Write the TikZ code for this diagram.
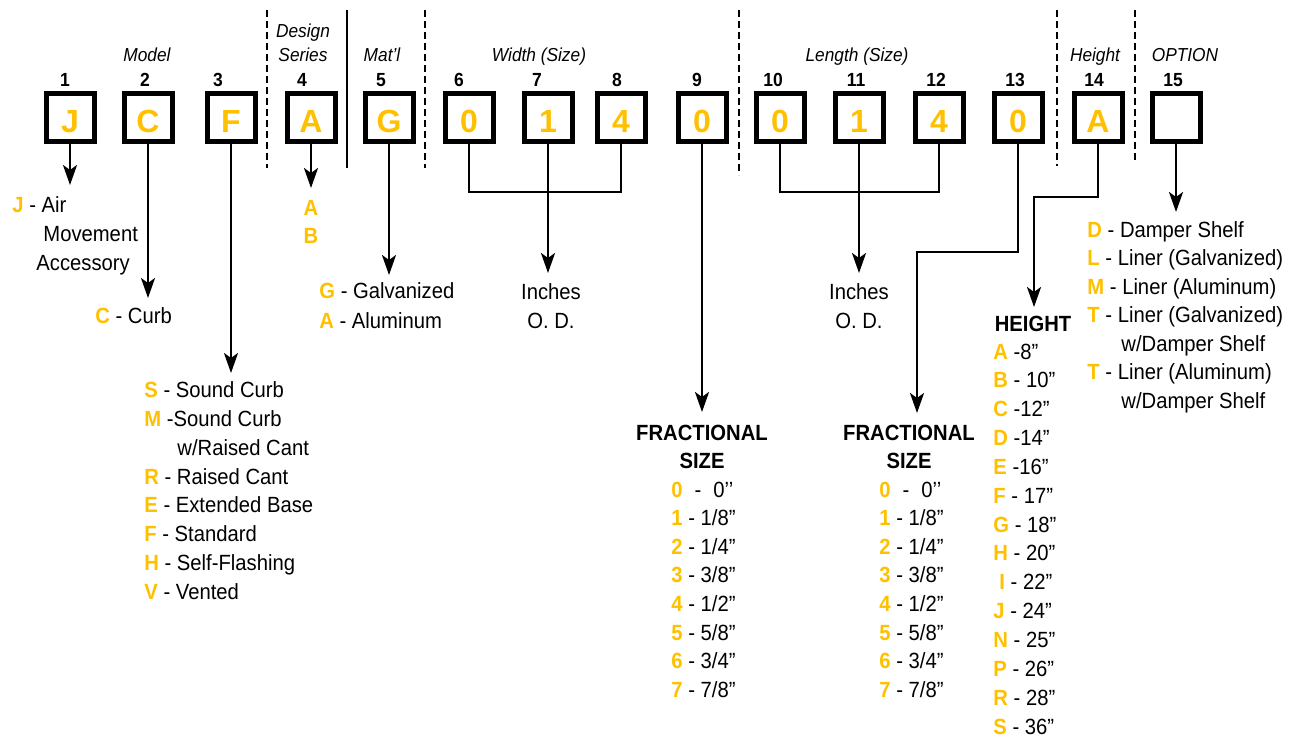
\documentclass[tikz,border=0pt]{standalone}
\usepackage{fontspec}
\setmainfont{Liberation Sans}[FakeStretch=0.92]
\newfontfamily\boxfont{Liberation Sans}
\usepackage{tikz}
\usepackage{xcolor}
\usetikzlibrary{arrows.meta,positioning}
\definecolor{ink}{HTML}{000000}
\definecolor{keyyellow}{HTML}{FFC000}
\newcommand{\kc}[1]{{\bfseries\color{keyyellow}#1}}

\begin{document}
\begin{tikzpicture}[x=0.5pt,y=-0.5pt,
    digitbox/.style={draw=ink,fill=white,line width=2.5pt,minimum size=24pt,inner sep=0pt,
      text height=15pt,text depth=0pt,font=\boxfont\fontsize{16}{16}\selectfont\bfseries,text=keyyellow},
    posnum/.style={font=\fontsize{9.5}{10}\selectfont\bfseries,anchor=base,inner sep=0pt},
    fieldlbl/.style={font=\fontsize{9.4}{10}\selectfont\itshape,anchor=base,inner sep=0pt},
    item/.style={font=\fontsize{11}{12}\selectfont,anchor=base west,inner sep=0pt},
    ctritem/.style={font=\fontsize{11}{12}\selectfont,anchor=base,inner sep=0pt},
    hdr/.style={font=\fontsize{11}{12}\selectfont\bfseries,anchor=base,inner sep=0pt},
    conn/.style={draw=ink,line width=1.3pt},
    arr/.style={conn,-{Stealth[length=10pt,width=7pt,inset=2.5pt]}},
    divd/.style={draw=ink,line width=1.2pt,dash pattern=on 3.5pt off 2pt}]
  \useasboundingbox (0,0) rectangle (1304,736);

  % code positions
  \foreach \i/\bx/\nx/\ch in {1/70/65/J,2/148/145/C,3/231/218/F,4/311/302/A,5/389/381/G,
      6/469/459/0,7/548/537/1,8/621/617/4,9/702/697/0,10/780/773/0,11/859/856/1,
      12/939/936/4,13/1018/1015/0,14/1098/1094/A,15/1176/1173/} {
    \node[digitbox] (b\i) at (\bx,117) {\ch};
    \node[posnum] (n\i) at (\nx,86) {\i};
  }

  % field labels
  \node[fieldlbl] (lmodel) at (147,61) {Model};
  \node[fieldlbl] (ldesign) at (303,37) {Design};
  \node[fieldlbl] (lseries) at (303,61) {Series};
  \node[fieldlbl] (lmat) at (382,61) {Mat’l};
  \node[fieldlbl] (lwidth) at (539,61) {Width (Size)};
  \node[fieldlbl] (llength) at (857,61) {Length (Size)};
  \node[fieldlbl] (lheight) at (1095,61) {Height};
  \node[fieldlbl] (loption) at (1185,61) {OPTION};

  % dividers
  \foreach \x/\yb in {267/168,425/168,739/175,1057/166,1135/162}
    \draw[divd] (\x,10) -- (\x,\yb);
  \draw[ink,line width=1.2pt] (347,10) -- (347,168);

  % single arrows
  \foreach \i/\ty in {1/185,2/298,3/373,4/188,5/275,9/412,15/212} {
    \coordinate (t\i) at (b\i.south |- 0,\ty);
    \draw[arr] (b\i.south) -- (t\i);
  }

  % width and length brackets
  \coordinate (wjoin) at (b7.south |- 0,192);
  \coordinate (wtip) at (b7.south |- 0,273);
  \draw[conn] (b6.south) |- (wjoin) -| (b8.south);
  \draw[arr] (b7.south) -- (wtip);
  \coordinate (ljoin) at (b11.south |- 0,192);
  \coordinate (ltip) at (b11.south |- 0,273);
  \draw[conn] (b10.south) |- (ljoin) -| (b12.south);
  \draw[arr] (b11.south) -- (ltip);

  % jogged arrows
  \coordinate (k13) at (917,252);
  \coordinate (t13) at (917,413);
  \draw[arr] (b13.south) |- (k13) -- (t13);
  \coordinate (k14) at (1034,197);
  \coordinate (t14) at (1034,307);
  \draw[arr] (b14.south) |- (k14) -- (t14);

  % model
  \node[item] (jair) at (12,212) {\kc{J} - Air};
  \node[item] (jmove) at (43,241) {Movement};
  \node[item] (jacc) at (36,270) {Accessory};
  \node[item] (ccurb) at (95,323) {\kc{C} - Curb};
  \node[item] (fs) at (144,397) {\kc{S} - Sound Curb};
  \node[item] (fm) at (144,426) {\kc{M} -Sound Curb};
  \node[item] (fmw) at (177,455) {w/Raised Cant};
  \node[item] (fr) at (144,484) {\kc{R} - Raised Cant};
  \node[item] (fe) at (144,512) {\kc{E} - Extended Base};
  \node[item] (ff) at (144,541) {\kc{F} - Standard};
  \node[item] (fh) at (144,570) {\kc{H} - Self-Flashing};
  \node[item] (fv) at (144,599) {\kc{V} - Vented};

  % design series and material
  \node[hdr,text=keyyellow] (dsa) at (311,215) {A};
  \node[hdr,text=keyyellow] (dsb) at (311,243) {B};
  \node[item] (matg) at (319,298) {\kc{G} - Galvanized};
  \node[item] (mata) at (319,328) {\kc{A} - Aluminum};

  % inches
  \node[ctritem] (winch) at (551,299) {Inches};
  \node[ctritem] (wod) at (551,328) {O. D.};
  \node[ctritem] (linch) at (859,299) {Inches};
  \node[ctritem] (lod) at (859,328) {O. D.};

  % fractional sizes
  \foreach \cx/\lx/\s in {702/671/w,909/879/l} {
    \node[hdr] (frac\s) at (\cx,440) {FRACTIONAL};
    \node[hdr] (size\s) at (\cx,468) {SIZE};
    \node[item] (f\s0) at (\lx,497) {\kc{0}\hspace{6pt}-\hspace{6pt}0’’};
    \foreach \d/\f in {1/{1/8},2/{1/4},3/{3/8},4/{1/2},5/{5/8},6/{3/4},7/{7/8}}
      \node[item] (f\s\d) at (\lx,497+28.6*\d) {\kc{\d} - \f”};
  }

  % height
  \node[hdr] (hgt) at (1033,331) {HEIGHT};
  \foreach \k/\t [count=\r from 0] in {A/{-8”},B/{- 10”},C/{-12”},D/{-14”},E/{-16”},
      F/{- 17”},G/{- 18”},H/{- 20”},{\hspace{3pt}I}/{- 22”},J/{- 24”},N/{- 25”},
      P/{- 26”},R/{- 28”},S/{- 36”}}
    \node[item] (h\r) at (993,359+28.85*\r) {\kc{\k} \t};

  % option
  \node[item] (od) at (1087,237) {\kc{D} - Damper Shelf};
  \node[item] (ol) at (1087,265.5) {\kc{L} - Liner (Galvanized)};
  \node[item] (om) at (1087,294) {\kc{M} - Liner (Aluminum)};
  \node[item] (otg) at (1087,322.5) {\kc{T} - Liner (Galvanized)};
  \node[item] (otgw) at (1121,351) {w/Damper Shelf};
  \node[item] (ota) at (1087,379.5) {\kc{T} - Liner (Aluminum)};
  \node[item] (otaw) at (1121,408) {w/Damper Shelf};
\end{tikzpicture}
\end{document}
